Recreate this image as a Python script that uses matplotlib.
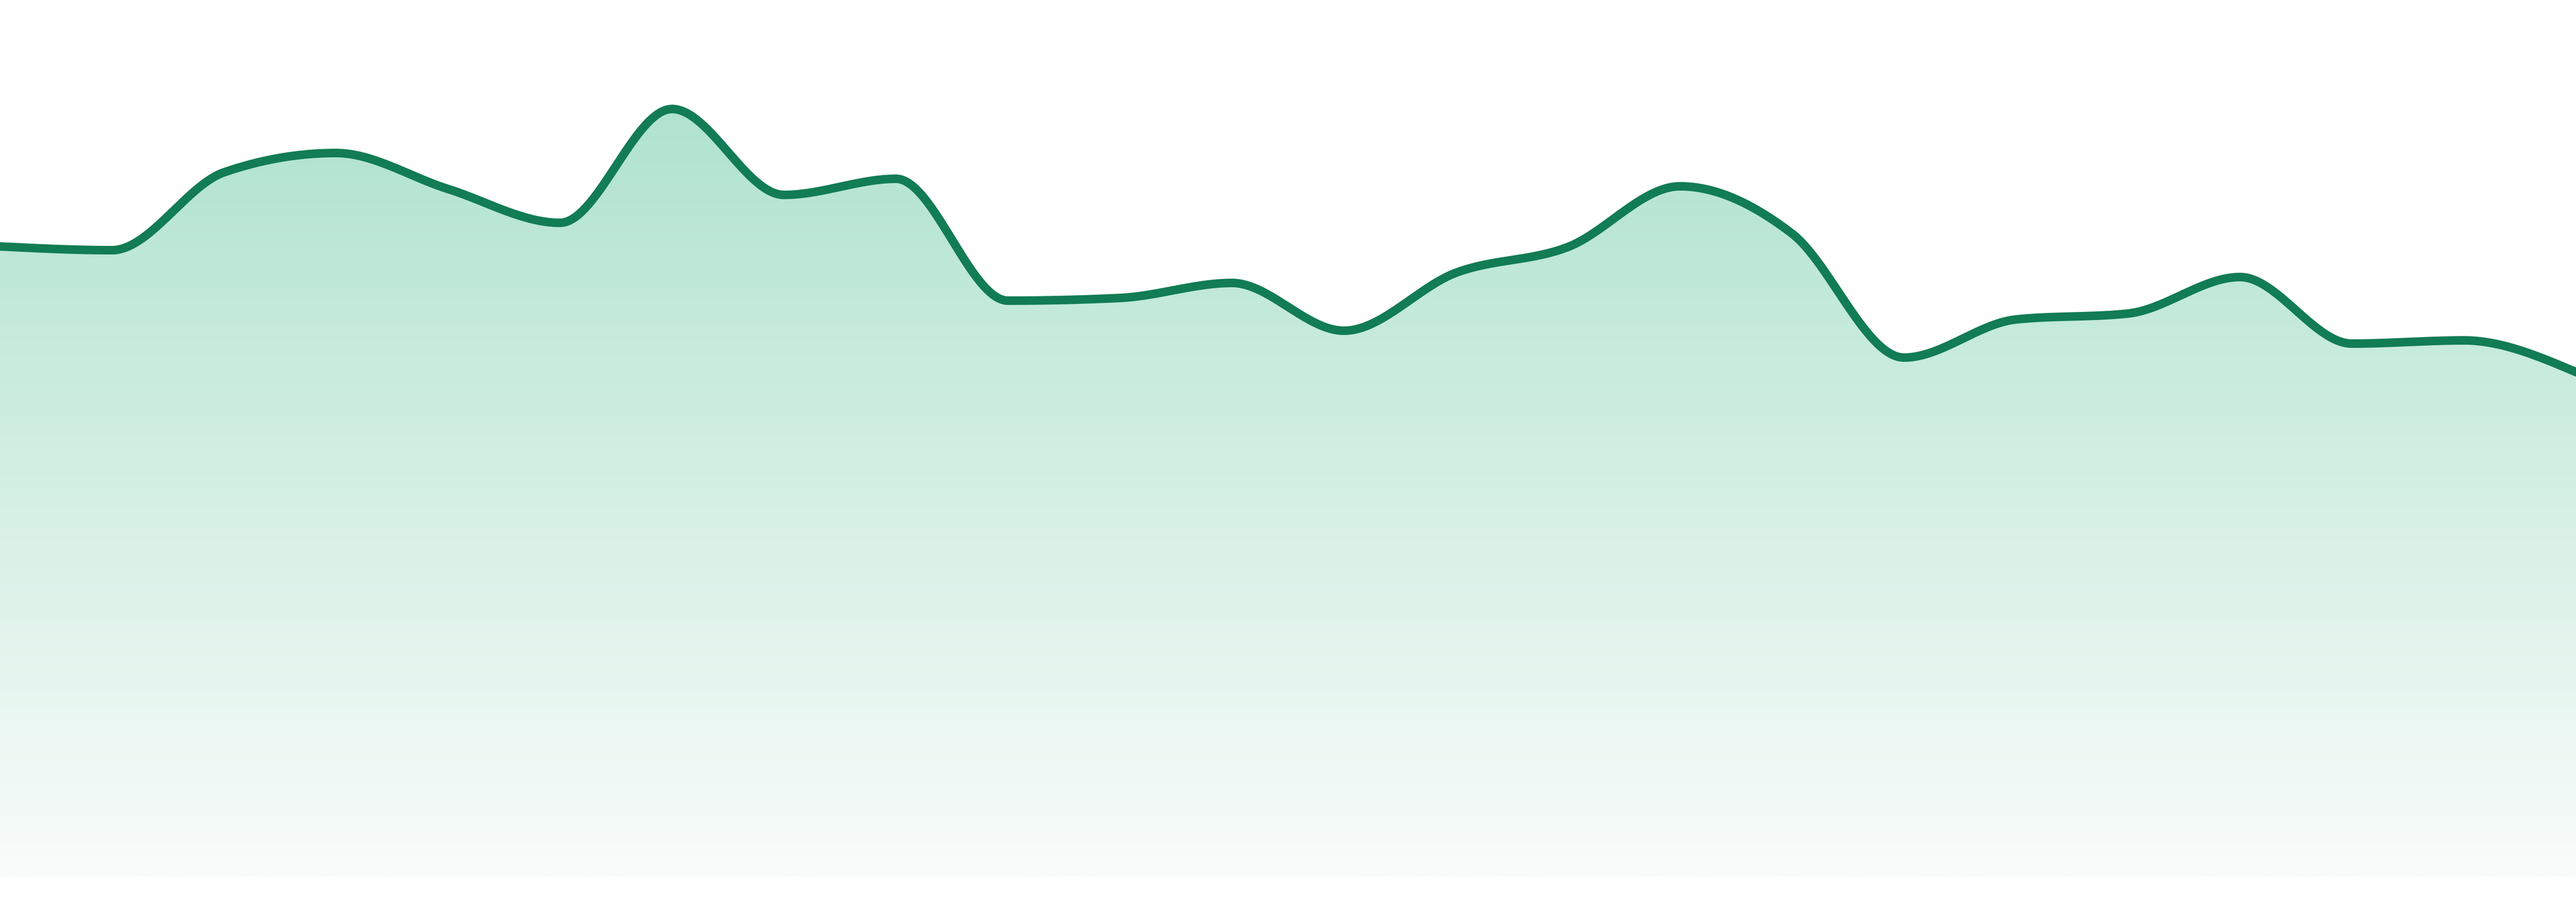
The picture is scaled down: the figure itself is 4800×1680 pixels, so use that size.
import numpy as np
import matplotlib
matplotlib.use("Agg")
import matplotlib.pyplot as plt
from matplotlib.patches import PathPatch
from matplotlib.path import Path

# values (one point per step, 24 steps)
steps = list(range(24))
values = [117.4, 116.7, 131.2, 134.8, 128.1, 121.8, 143.0, 127.0, 130.0, 107.3,
          107.8, 110.6, 101.7, 112.5, 117.3, 128.6, 119.8, 96.7, 103.8, 104.9,
          111.7, 99.3, 99.9, 94.0]

line_color = "#127c54"
fill_top = np.array([176, 227, 206]) / 255
fill_bottom = np.array([249, 252, 251]) / 255


# monotone cubic (same idea as d3.curveMonotoneX)
def monotone(x, y, n=60):
    x = np.asarray(x, float)
    y = np.asarray(y, float)
    h = np.diff(x)
    s = np.diff(y) / h
    t = np.zeros(len(x))
    for i in range(1, len(x) - 1):
        p = (s[i - 1] * h[i] + s[i] * h[i - 1]) / (h[i - 1] + h[i])
        sg = (1 if s[i - 1] >= 0 else -1) + (1 if s[i] >= 0 else -1)
        t[i] = sg * min(abs(s[i - 1]), abs(s[i]), 0.5 * abs(p))
    t[0] = (3 * s[0] - t[1]) / 2
    t[-1] = (3 * s[-1] - t[-2]) / 2
    xs, ys = [], []
    for i in range(len(x) - 1):
        u = np.linspace(0, 1, n, endpoint=(i == len(x) - 2))
        h00 = 2 * u**3 - 3 * u**2 + 1
        h10 = u**3 - 2 * u**2 + u
        h01 = -2 * u**3 + 3 * u**2
        h11 = u**3 - u**2
        xs.append(x[i] + u * h[i])
        ys.append(h00 * y[i] + h10 * h[i] * t[i] + h01 * y[i + 1] + h11 * h[i] * t[i + 1])
    return np.concatenate(xs), np.concatenate(ys)


xs, ys = monotone(steps, values)

fig = plt.figure(figsize=(48, 16.8), dpi=100)
ax = fig.add_axes([0, 0.028, 1, 0.972])
ax.set_xlim(0, 23)
ax.set_ylim(0, 163.3)
ax.axis("off")

# gradient fill under the curve
top = max(values)
rows = np.linspace(0, 1, 256)[:, None]
grad = fill_bottom + rows * (fill_top - fill_bottom)
grad = grad[:, None, :]
im = ax.imshow(grad, extent=[0, 23, 0, top], origin="lower", aspect="auto",
               interpolation="bilinear", zorder=1)
verts = np.vstack([np.column_stack([xs, ys]), [[xs[-1], 0], [xs[0], 0], [xs[0], ys[0]]]])
clip = PathPatch(Path(verts), facecolor="none", edgecolor="none", transform=ax.transData)
ax.add_patch(clip)
im.set_clip_path(clip)
ax.set_ylim(0, 163.3)

ax.plot(xs, ys, color=line_color, lw=11.5, solid_joinstyle="round", zorder=2)

fig.savefig("out.png", dpi=100)
